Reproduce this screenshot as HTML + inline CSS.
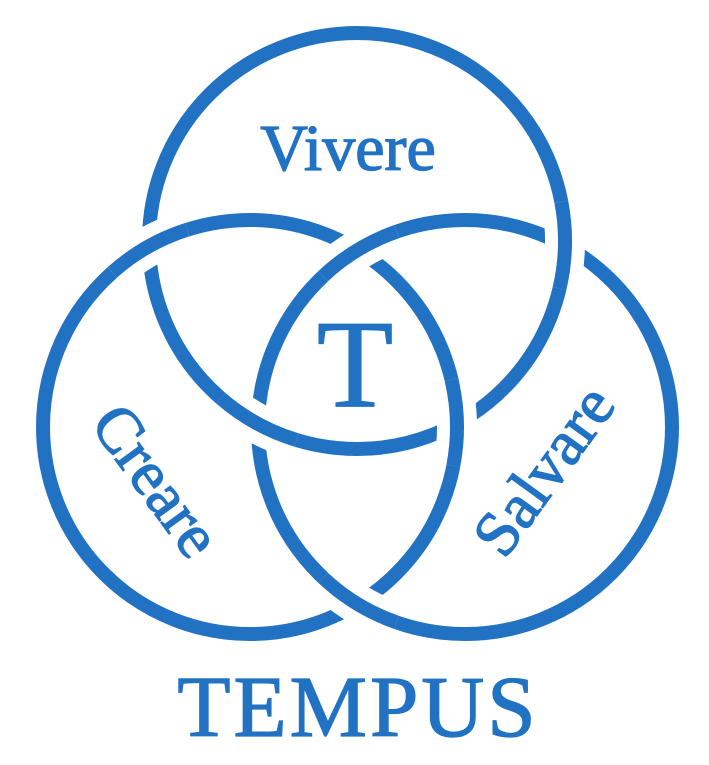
<!DOCTYPE html>
<html><head><meta charset="utf-8"><style>
html,body{margin:0;padding:0;background:#fff;}
svg{display:block}
text{font-family:"Liberation Serif",serif;fill:#2272c4;stroke:#2272c4;stroke-width:1.3}
</style></head><body>
<svg width="709" height="765" viewBox="0 0 709 765" xmlns="http://www.w3.org/2000/svg">
<g fill="none" stroke="#2272c4" stroke-width="14">
<circle cx="357" cy="241" r="208"/>
<circle cx="250" cy="427" r="207"/>
<circle cx="465" cy="427" r="207"/>
</g>
<g fill="none" stroke="#fff" stroke-width="40">
<path d="M112.3,272.4 A207,207 0 0 1 187.1,229.7"/>
<path d="M451.5,379.7 A207,207 0 0 1 453.3,465.8"/>
<path d="M561.3,202 A208,208 0 0 1 559.5,288.5"/>
<path d="M296.5,440 A208,208 0 0 1 220.8,398.2"/>
<path d="M323,276.3 A207,207 0 0 1 396.6,231.6"/>
<path d="M396.6,622.4 A207,207 0 0 1 323,577.7"/>
</g>
<g fill="none" stroke="#2272c4" stroke-width="14">
<path d="M112.3,272.4 A207,207 0 0 1 187.1,229.7"/>
<path d="M451.5,379.7 A207,207 0 0 1 453.3,465.8"/>
<path d="M561.3,202 A208,208 0 0 1 559.5,288.5"/>
<path d="M296.5,440 A208,208 0 0 1 220.8,398.2"/>
<path d="M323,276.3 A207,207 0 0 1 396.6,231.6"/>
<path d="M396.6,622.4 A207,207 0 0 1 323,577.7"/>
</g>
<text x="348" y="170" font-size="66" text-anchor="middle">Vivere</text>
<text x="355" y="406" font-size="125" text-anchor="middle">T</text>
<text transform="translate(157,480) rotate(54)" font-size="64" text-anchor="middle" dy="22">Creare</text>
<text transform="translate(543,470) rotate(-54)" font-size="64" text-anchor="middle" dy="22">Salvare</text>
<text x="358" y="736" font-size="87" text-anchor="middle" letter-spacing="3">TEMPUS</text>
</svg>
</body></html>
